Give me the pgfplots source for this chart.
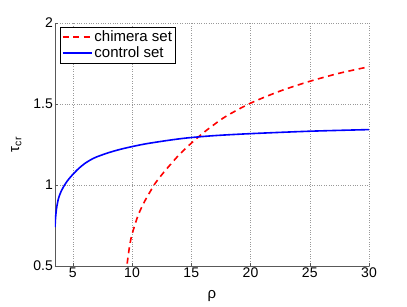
\documentclass[border=0pt]{standalone}
\usepackage{pgfplots}
\pgfplotsset{compat=1.18}
\usepackage{fontspec}
\setmainfont{Liberation Sans}
\begin{document}
\fontsize{14}{16}\selectfont
\begin{tikzpicture}
\begin{axis}[
  scale only axis,
  width=314pt, height=243pt,
  xmin=3.5, xmax=30, ymin=0.5, ymax=2,
  xtick={5,10,15,20,25,30},
  ytick={0.5,1,1.5,2},
  axis x line=bottom, axis y line=left,
  axis line style={-, draw=black!65, line width=0.8pt},
  tick style={draw=black!65, line width=0.5pt},
  tick align=inside,
  major tick length=3pt,
  grid=major,
  grid style={dotted, draw=black!40, line width=0.5pt},
  every tick label/.append style={font=\fontsize{14}{16}\selectfont},
  xticklabel style={inner sep=2pt},
  yticklabel style={/pgf/number format/fixed, inner sep=2pt},
  /pgf/number format/assume math mode=true,
  xlabel={ρ}, ylabel={τ\textsubscript{cr}},
  xlabel style={font=\fontsize{15}{17}\selectfont},
  ylabel style={font=\fontsize{15}{17}\selectfont},
  xlabel shift=5pt,
  ylabel shift=5pt,
  legend style={at={(axis description cs:0.016,0.985)}, anchor=north west, draw=black, line width=0.6pt, fill=white, font=\fontsize{15}{17}\selectfont, inner sep=1.5pt, row sep=-1pt},
  legend cell align=left,
  legend image code/.code={\draw[#1, line width=1.6pt] (0pt,0pt) -- (29pt,0pt);},
  clip=true,
]
\addplot[red, line width=1.6pt, dash pattern=on 6pt off 4.5pt, smooth, tension=0.5] coordinates {
(9.5,0.45) (9.6,0.52) (9.8,0.625) (10,0.695) (10.5,0.81) (11,0.89) (11.5,0.955) (12,1.015) (12.7,1.08) (13.5,1.148) (14,1.188) (15,1.258) (16,1.321) (17,1.377) (18,1.427) (20,1.505) (22.5,1.58) (25,1.64) (27.5,1.69) (30,1.73)
};
\addlegendentry{chimera set}
\addplot[blue, line width=1.6pt, smooth, tension=0.5] coordinates {
(3.5,0.74) (3.55,0.80) (3.62,0.85) (3.7,0.885) (3.8,0.918) (4.0,0.958) (4.35,1.005) (4.7,1.04) (5,1.065) (5.5,1.102) (6,1.132) (6.5,1.155) (7,1.173) (8,1.199) (9,1.22) (10,1.237) (11,1.252) (12,1.264) (13,1.275) (14,1.285) (15,1.293) (17,1.305) (20,1.317) (25,1.332) (30,1.342)
};
\addlegendentry{control set}
\end{axis}
\path[use as bounding box] ([shift={(-55pt,-40pt)}]current axis.south west) rectangle ([shift={(38pt,23pt)}]current axis.north east);
\end{tikzpicture}
\end{document}
